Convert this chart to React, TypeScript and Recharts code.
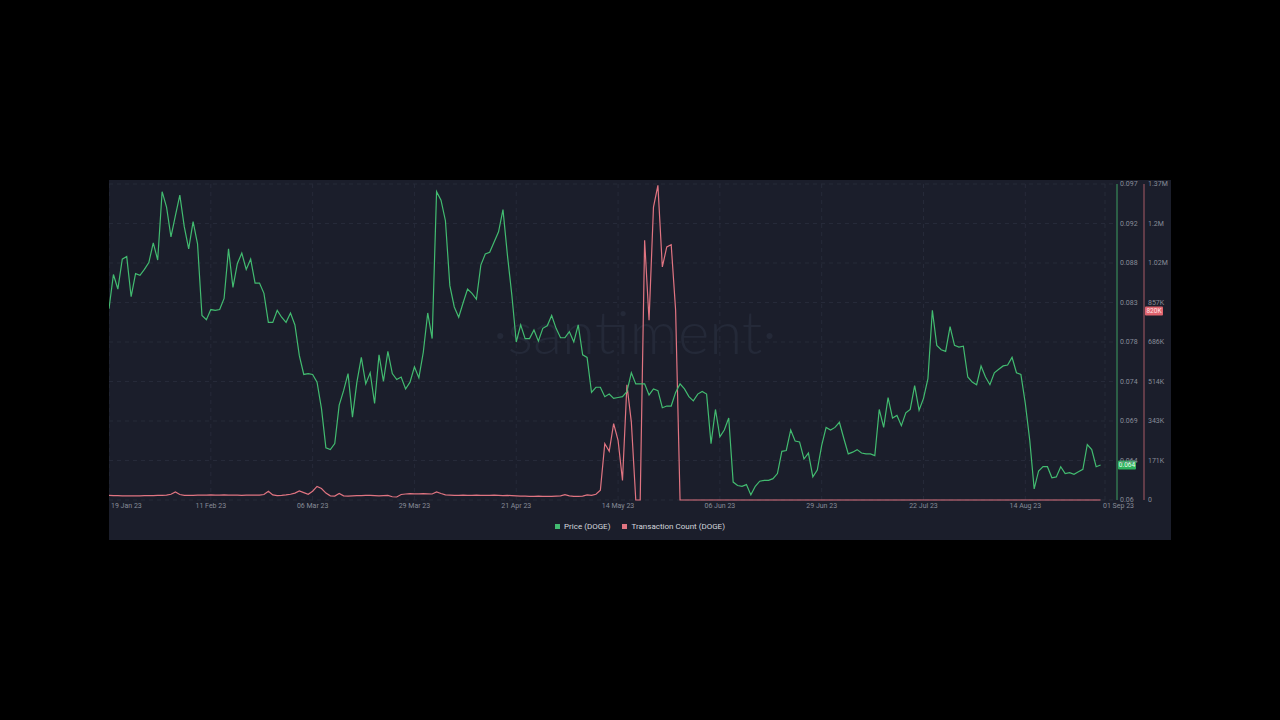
import React from "react";
import { LineChart, Line, XAxis, YAxis, CartesianGrid, Legend, ReferenceLine } from "recharts";

// ---- Data (daily, 19 Jan 23 .. 31 Aug 23) ----
const priceDOGE: number[] = [
  0.0824, 0.0864, 0.0847, 0.0882, 0.0885, 0.0838, 0.0865, 0.0863, 0.087, 0.0878,
  0.0901, 0.0881, 0.0961, 0.0943, 0.0908, 0.0933, 0.0957, 0.092, 0.0894, 0.0926,
  0.09, 0.0816, 0.0811, 0.0823, 0.0822, 0.0823, 0.0836, 0.0894, 0.0849, 0.0877,
  0.0889, 0.087, 0.0882, 0.0854, 0.0854, 0.0842, 0.0808, 0.0808, 0.0822, 0.0814,
  0.0808, 0.0819, 0.0805, 0.0769, 0.0747, 0.0748, 0.0747, 0.0738, 0.0707, 0.0661,
  0.0659, 0.0666, 0.0711, 0.0728, 0.0748, 0.0697, 0.0738, 0.0767, 0.0736, 0.0749,
  0.0713, 0.077, 0.0739, 0.0774, 0.0748, 0.0741, 0.0744, 0.073, 0.0738, 0.0756,
  0.0743, 0.0773, 0.0819, 0.0789, 0.0961, 0.0951, 0.0927, 0.0851, 0.0826, 0.0814,
  0.0831, 0.0847, 0.0842, 0.0835, 0.0875, 0.0888, 0.089, 0.0902, 0.0914, 0.094,
  0.0887, 0.084, 0.0785, 0.0805, 0.0789, 0.0789, 0.0799, 0.0786, 0.0801, 0.0804,
  0.0816, 0.0801, 0.079, 0.079, 0.0797, 0.0785, 0.0805, 0.077, 0.0767, 0.0726,
  0.0732, 0.0732, 0.0721, 0.0724, 0.0719, 0.072, 0.0721, 0.0727, 0.0749, 0.0736,
  0.0736, 0.0736, 0.0723, 0.073, 0.0728, 0.0708, 0.071, 0.071, 0.0726, 0.0736,
  0.073, 0.0721, 0.0716, 0.0724, 0.0727, 0.0724, 0.0666, 0.0706, 0.0674, 0.0682,
  0.0696, 0.0621, 0.0617, 0.0616, 0.0618, 0.0606, 0.0616, 0.0622, 0.0623, 0.0623,
  0.0625, 0.0631, 0.0657, 0.0658, 0.0682, 0.0669, 0.0668, 0.0648, 0.0655, 0.0627,
  0.0635, 0.0664, 0.0685, 0.0682, 0.0685, 0.0691, 0.0672, 0.0654, 0.0656, 0.0659,
  0.0655, 0.0654, 0.0654, 0.0652, 0.0706, 0.0685, 0.072, 0.0696, 0.0699, 0.0687,
  0.0702, 0.0706, 0.0734, 0.0705, 0.0719, 0.0742, 0.0822, 0.0781, 0.0776, 0.0774,
  0.0803, 0.0781, 0.0779, 0.078, 0.0744, 0.0738, 0.0735, 0.0757, 0.0744, 0.0735,
  0.0749, 0.0753, 0.0757, 0.0758, 0.0767, 0.0749, 0.0747, 0.0713, 0.067, 0.0613,
  0.0634, 0.0639, 0.0639, 0.0626, 0.0627, 0.0639, 0.0631, 0.0632, 0.063, 0.0633,
  0.0636, 0.0665, 0.0659, 0.0639, 0.0641,
];

// transaction count, thousands
const txCountK: number[] = [
  20, 19, 19, 18, 18, 18, 18, 18, 19, 19, 19, 20, 20, 21, 25,
  35, 24, 20, 20, 20, 21,
  21, 21, 22, 21, 21, 22, 21, 21, 21, 20, 21, 21, 21, 21, 24,
  38, 22, 19, 20, 22, 25, 30, 39, 32, 25,
  38, 59, 50, 30, 18, 17, 28, 18, 17, 18,
  19, 19, 20, 20, 19, 18, 19, 20, 14, 13,
  24, 26, 28, 27, 27, 28, 27, 26, 35, 28,
  22, 21, 20, 20, 21, 20, 20, 21, 20, 20,
  20, 21, 20, 19, 20, 19, 18, 17, 17, 16,
  16, 17, 16, 16, 16, 17, 18, 23, 18, 16,
  16, 17, 22, 20, 25,
  42, 244, 211, 331, 259, 85, 500, 338, 0, 0, 1127, 780, 1271, 1365, 1011, 1098, 1108, 824,
  0, 0, 0, 0, 0, 0, 0, 0, 0, 0, 0, 0, 0, 0, 0, 0,
  0, 0, 0, 0, 0, 0, 0, 0, 0, 0, 0, 0, 0, 0, 0, 0,
  0, 0, 0, 0, 0, 0, 0, 0, 0, 0, 0, 0, 0, 0, 0, 0,
  0, 0, 0, 0, 0, 0, 0, 0, 0, 0, 0, 0, 0, 0, 0, 0,
  0, 0, 0, 0, 0, 0, 0, 0, 0, 0, 0, 0, 0, 0, 0, 0,
  0, 0, 0, 0, 0, 0, 0, 0, 0, 0, 0, 0, 0, 0, 0, 0,
];

const xTickDays = [0, 23, 46, 69, 92, 115, 138, 161, 184, 207, 225];
const xTickLabels = [
  "19 Jan 23", "11 Feb 23", "06 Mar 23", "29 Mar 23", "21 Apr 23", "14 May 23",
  "06 Jun 23", "29 Jun 23", "22 Jul 23", "14 Aug 23", "01 Sep 23",
];
const priceTickLabels = ["0.06", "0.064", "0.069", "0.074", "0.078", "0.083", "0.088", "0.092", "0.097"];
const txTickLabels = ["0", "171K", "343K", "514K", "686K", "857K", "1.02M", "1.2M", "1.37M"];
const seriesNames = ["Price (DOGE)", "Transaction Count (DOGE)"];
const priceMin = 0.06;
const priceMax = 0.097;
const txMaxK = 1371;
const priceBadge = { value: 0.0641, label: "0.064" };
const txBadge = { value: 820, label: "820K" };

// ---- styling ----
const GREEN = "#42bb70";
const RED = "#e07481";
const BG = "#1b1e2b";
const TICK = "#878c98";
const FONT = "Roboto, 'Noto Sans', sans-serif";

const chartData = priceDOGE.map((p, i) => ({ day: i, price: p, tx: txCountK[i] }));
const priceTicks = priceTickLabels.map((_, i) => priceMin + (i * (priceMax - priceMin)) / (priceTickLabels.length - 1));
const txTicks = txTickLabels.map((_, i) => (i * txMaxK) / (txTickLabels.length - 1));

const XTick = (props: any) => {
  const { x, y, payload } = props;
  const i = xTickDays.indexOf(payload.value);
  let anchor: any = "middle";
  let dx = 0;
  if (i === 0) { anchor = "start"; dx = 2; }
  if (i === xTickDays.length - 1) { anchor = "start"; dx = -2; }
  return (
    <text x={x + dx} y={y} dy="0.71em" textAnchor={anchor} fill={TICK} fontSize={7} fontFamily={FONT}>
      {xTickLabels[i]}
    </text>
  );
};

const makeYTick = (labels: string[]) => (props: any) => {
  const { x, y, index } = props;
  return (
    <text x={x} y={y} dy="0.355em" textAnchor="start" fill={TICK} fontSize={7} fontFamily={FONT}>
      {labels[index]}
    </text>
  );
};

const Badge = (props: any, offset: number, fill: string, text: string, textColor: string) => {
  const vb = props.viewBox || {};
  const bx = vb.x + vb.width + offset;
  const by = vb.y;
  return (
    <g>
      <rect x={bx} y={by - 4.5} width={18} height={9} fill={fill} rx={1} />
      <text x={bx + 9} y={by} dy="0.355em" textAnchor="middle" fill={textColor} fontSize={6.5} fontFamily={FONT}>
        {text}
      </text>
    </g>
  );
};

const LegendContent = () => (
  <div
    style={{
      display: "flex",
      justifyContent: "center",
      alignItems: "center",
      height: 24,
      fontFamily: FONT,
      fontSize: 8,
      color: "#d3d6dd",
      gap: 12,
    }}
  >
    {seriesNames.map((n, i) => (
      <span key={n} style={{ display: "inline-flex", alignItems: "center" }}>
        <span
          style={{ display: "inline-block", width: 5, height: 5, background: i === 0 ? GREEN : RED, marginRight: 4 }}
        />
        {n}
      </span>
    ))}
  </div>
);

export default function App() {
  return (
    <div style={{ position: "fixed", left: 0, top: 0, width: 1280, height: 720, background: "#000" }}>
      <div style={{ position: "absolute", left: 109, top: 180, width: 1062, height: 360, background: BG }}>
        <div
          style={{
            position: "absolute",
            left: 384,
            top: 121,
            fontFamily: "Lato, 'Open Sans', sans-serif",
            fontWeight: 300,
            fontSize: 60,
            color: "#242938",
            lineHeight: 1,
            whiteSpace: "nowrap",
          }}
        >
          ·santiment·
        </div>
        <div style={{ position: "absolute", left: 0, top: 0 }}>
          <LineChart width={1062} height={360} data={chartData} margin={{ top: 4, right: 0, bottom: 0, left: 0 }}>
            <CartesianGrid
              yAxisId="price"
              stroke="#262a39"
              strokeDasharray="4 4"
              horizontalValues={priceTicks}
              verticalValues={xTickDays}
            />
            <XAxis
              dataKey="day"
              type="number"
              domain={[0, 225]}
              ticks={xTickDays}
              interval={0}
              padding={{ left: 0, right: 12 }}
              axisLine={false}
              tickLine={false}
              tickSize={0}
              tickMargin={3}
              height={14}
              tick={<XTick />}
            />
            <YAxis
              yAxisId="price"
              orientation="right"
              domain={[priceMin, priceMax]}
              ticks={priceTicks}
              interval={0}
              width={27}
              axisLine={{ stroke: "#3e9f63" }}
              tickLine={false}
              tickSize={0}
              tickMargin={3}
              tick={makeYTick(priceTickLabels)}
            />
            <YAxis
              yAxisId="tx"
              orientation="right"
              domain={[0, txMaxK]}
              ticks={txTicks}
              interval={0}
              width={27}
              axisLine={{ stroke: "#a85a66" }}
              tickLine={false}
              tickSize={0}
              tickMargin={4}
              tick={makeYTick(txTickLabels)}
            />
            <Legend verticalAlign="bottom" height={26} content={<LegendContent />} />
            <Line
              yAxisId="tx"
              dataKey="tx"
              stroke={RED}
              strokeWidth={1.2}
              dot={false}
              isAnimationActive={false}
              name={seriesNames[1]}
            />
            <Line
              yAxisId="price"
              dataKey="price"
              stroke={GREEN}
              strokeWidth={1.2}
              dot={false}
              isAnimationActive={false}
              name={seriesNames[0]}
            />
            <ReferenceLine
              yAxisId="price"
              y={priceBadge.value}
              stroke="none"
              label={(p: any) => Badge(p, 1, "#2fb35e", priceBadge.label, "#eafff0")}
            />
            <ReferenceLine
              yAxisId="tx"
              y={txBadge.value}
              stroke="none"
              label={(p: any) => Badge(p, 28, "#e0646f", txBadge.label, "#ffe3e6")}
            />
          </LineChart>
        </div>
      </div>
    </div>
  );
}
